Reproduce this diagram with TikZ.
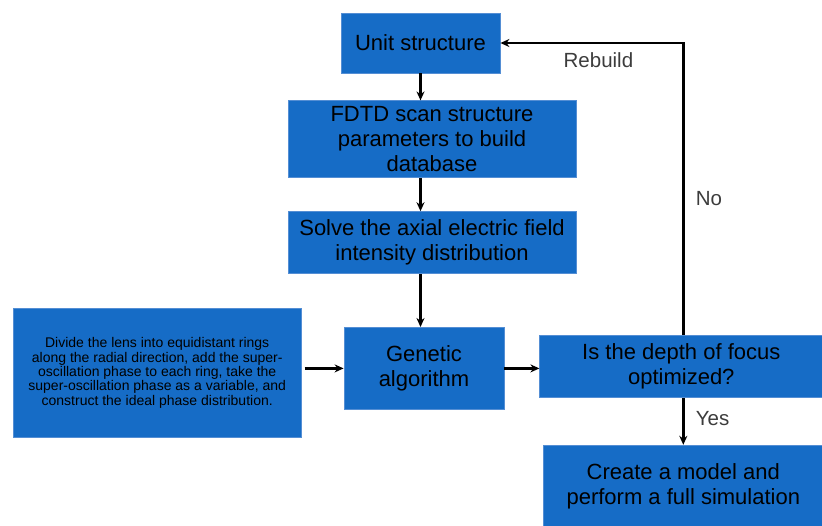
\documentclass[tikz,border=0pt]{standalone}
\usepackage{fontspec}
\setmainfont{Liberation Sans}
\usetikzlibrary{arrows.meta, positioning}
\definecolor{boxblue}{RGB}{22,108,198}
\definecolor{boxedge}{RGB}{84,142,212}
\definecolor{labelgray}{RGB}{60,60,60}

\begin{document}
\begin{tikzpicture}[
        x=1pt, y=1pt,
        >={Stealth[length=9pt, width=8pt]},
        stepbox/.style={
            rectangle,
            align=center,
            draw=boxedge,
            line width=0.8pt,
            fill=boxblue,
            text=black,
            inner sep=2pt,
            font=\fontsize{22}{25}\selectfont
        },
        notebox/.style={
            stepbox,
            font=\fontsize{14}{14.3}\selectfont
        },
        arrow/.style={
            ->,
            line width=2.4pt,
            color=black
        },
        tag/.style={
            font=\fontsize{20.5}{24}\selectfont,
            text=labelgray
        }
    ]

    \useasboundingbox (0,0) rectangle (822,-525);

    \node (unit) [stepbox, minimum width=159pt, minimum height=60pt] at (420.5,-43) {Unit structure};

    \node (fdtd) [stepbox, minimum width=288pt, minimum height=77pt, below=27pt of unit, xshift=11.5pt] {FDTD scan structure\\parameters to build\\database};

    \node (solve) [stepbox, minimum width=288pt, minimum height=62pt, below=33pt of fdtd] {Solve the axial electric field\\intensity distribution};

    \node (genetic) [stepbox, minimum width=160pt, minimum height=82pt, below=53pt of solve, xshift=-8pt] {Genetic\\algorithm};

    \node (divide) [notebox, minimum width=288pt, minimum height=129pt, left=42pt of genetic, yshift=-4.5pt] {Divide the lens into equidistant rings\\along the radial direction, add the super-\\oscillation phase to each ring, take the\\super-oscillation phase as a variable, and\\construct the ideal phase distribution.};

    \node (check) [stepbox, minimum width=283pt, minimum height=62pt, right=35pt of genetic, yshift=2pt] {Is the depth of focus\\optimized?};

    \node (model) [stepbox, minimum width=279pt, minimum height=83pt, below=47pt of check, xshift=2pt] {Create a model and\\perform a full simulation};

    \draw [arrow] (unit.south) -- (unit.south |- fdtd.north);

    \draw [arrow] (unit.south |- fdtd.south) -- (unit.south |- solve.north);

    \draw [arrow] (unit.south |- solve.south) -- (unit.south |- genetic.north);

    \draw [arrow, shorten <=3pt] (divide.east |- genetic.west) -- (genetic.west);

    \draw [arrow] (genetic.east) -- (genetic.east -| check.west);

    \draw [arrow] ([xshift=2pt]check.south) -- node[tag, pos=0.45, right=8pt] {Yes} ([xshift=2pt]check.south |- model.north);

    \draw [arrow] ([xshift=2pt]check.north) |- node[tag, pos=0.233, right=8pt] {No} node[tag, pos=0.732, below=5pt] {Rebuild} (unit.east);

    \end{tikzpicture}
\end{document}
